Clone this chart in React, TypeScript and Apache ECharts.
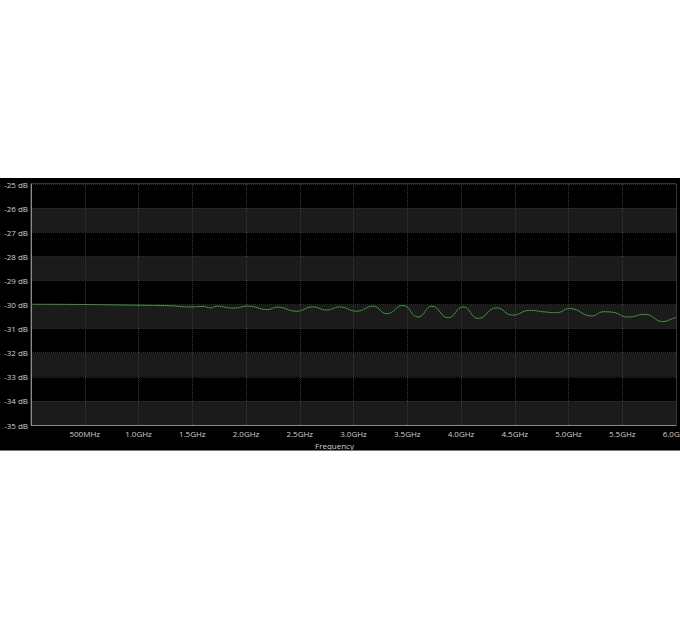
import React, { useEffect, useRef } from "react";
import * as echarts from "echarts";

const freqGHz = [0.0, 0.49, 0.99, 1.29, 1.48, 1.6, 1.67, 1.73, 1.88, 2.02, 2.2, 2.29, 2.47, 2.62, 2.75, 2.87, 3.03, 3.18, 3.31, 3.46, 3.6, 3.73, 3.88, 4.02, 4.16, 4.33, 4.48, 4.64, 4.76, 4.89, 5.01, 5.22, 5.32, 5.41, 5.55, 5.71, 5.88, 5.97, 6.0];
const levelDb = [-29.99, -30.0, -30.03, -30.05, -30.1, -30.08, -30.14, -30.07, -30.15, -30.07, -30.21, -30.11, -30.28, -30.1, -30.23, -30.1, -30.28, -30.07, -30.38, -30.04, -30.52, -30.07, -30.55, -30.1, -30.58, -30.14, -30.44, -30.24, -30.3, -30.34, -30.17, -30.48, -30.3, -30.32, -30.52, -30.41, -30.71, -30.58, -30.54];

const yMin = -35;
const yMax = -25;
const xMin = 0;
const xMax = 6;
const xStep = 0.5;
const axisTitle = "Frequency";

function freqLabel(v: number): string {
  if (v === 0) return "";
  if (v < 1) return Math.round(v * 1000) + "MHz";
  return v.toFixed(1) + "GHz";
}

export default function App() {
  const ref = useRef<HTMLDivElement>(null);
  useEffect(() => {
    if (!ref.current) return;
    const chart = echarts.init(ref.current, undefined, { renderer: "svg" });
    const font = "'Open Sans', 'Noto Sans', sans-serif";
    chart.setOption({
      animation: false,
      backgroundColor: "#000",
      grid: {
        left: 31,
        right: 4,
        top: 6,
        bottom: 25,
        containLabel: false,
        outerBoundsMode: "none",
        show: true,
        borderColor: "#6a6a6a",
        borderWidth: 1,
      },
      xAxis: {
        type: "value",
        min: xMin,
        max: xMax,
        interval: xStep,
        name: axisTitle,
        nameLocation: "middle",
        nameGap: 11,
        nameTextStyle: { color: "#d0d0d0", fontSize: 8, fontFamily: font, padding: [0, 38, 0, 0] },
        axisLine: { show: true, lineStyle: { color: "#8a8a8a" } },
        axisTick: { show: false },
        axisLabel: {
          color: "#d0d0d0",
          fontSize: 8,
          fontFamily: font,
          margin: 4,
          showMinLabel: false,
          formatter: (v: number) => freqLabel(v),
        },
        splitLine: { show: true, lineStyle: { color: "#3a3a3a", type: "dotted", width: 1 } },
      },
      yAxis: {
        type: "value",
        min: yMin,
        max: yMax,
        interval: 1,
        axisLine: { show: true, lineStyle: { color: "#8a8a8a" } },
        axisTick: { show: false },
        axisLabel: {
          color: "#d0d0d0",
          fontSize: 8,
          fontFamily: font,
          margin: 3,
          formatter: (v: number) => v + " dB",
        },
        splitLine: { show: true, lineStyle: { color: "#303030", type: "dotted", width: 1 } },
        splitArea: { show: true, areaStyle: { color: ["#1b1b1b", "#000000"] } },
      },
      series: [
        {
          type: "line",
          data: freqGHz.map((f, i) => [f, levelDb[i]]),
          smooth: 0.5,
          showSymbol: false,
          lineStyle: { color: "#3c963c", width: 1 },
        },
      ],
    });
    return () => chart.dispose();
  }, []);
  return (
    <div style={{ position: "fixed", left: 0, top: 0, width: 680, height: 630, background: "#fff" }}>
      <div
        ref={ref}
        style={{ position: "absolute", left: 0, top: 178, width: 680, height: 272, borderBottom: "1px solid #777" }}
      />
    </div>
  );
}
